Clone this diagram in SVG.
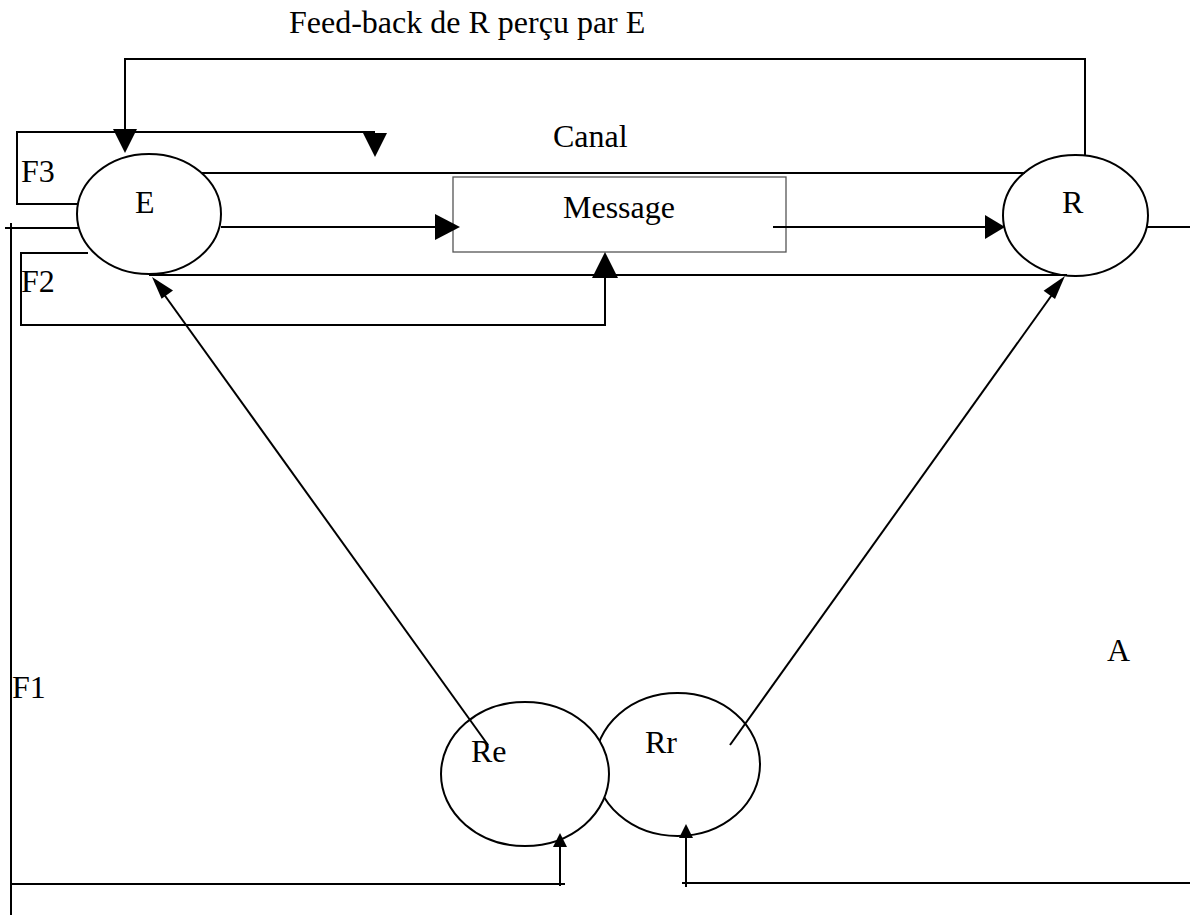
<svg xmlns="http://www.w3.org/2000/svg" width="1190" height="915" viewBox="0 0 1190 915">
<style>
.ln{fill:none;stroke:#000;stroke-width:2}
.nd{fill:#fff;stroke:#000;stroke-width:2}
.bx{fill:#fff;stroke:#555;stroke-width:1.3}
.ah{fill:#000;stroke:none}
text{font-family:"Liberation Serif","Times New Roman",serif;font-size:32px;fill:#000}
</style>
<rect width="1190" height="915" fill="#fff"/>
<g id="labels">
<text x="289" y="33">Feed-back de R perçu par E</text>
<text x="553" y="147">Canal</text>
<text x="21" y="182">F3</text>
<text x="21" y="292">F2</text>
<text x="12" y="698">F1</text>
<text x="1107" y="661">A</text>
</g>
<g id="node-Rr">
<ellipse class="nd" cx="677.5" cy="764.5" rx="82.5" ry="71.5"/>
<text x="645" y="753">Rr</text>
</g>
<g id="node-Re">
<ellipse class="nd" cx="525" cy="774" rx="84" ry="72"/>
<text x="471" y="762">Re</text>
</g>
<g id="node-E">
<ellipse class="nd" cx="149" cy="214" rx="72" ry="60"/>
<text x="135" y="213">E</text>
</g>
<g id="node-R">
<ellipse class="nd" cx="1075.5" cy="215.5" rx="72.5" ry="60.5"/>
<text x="1062" y="213">R</text>
</g>
<g id="node-Message">
<rect class="bx" x="453" y="177" width="333" height="75"/>
<text x="563" y="218">Message</text>
</g>
<g id="connectors">
<polyline class="ln" points="1085,155 1085,59 125,59 125,135"/>
<polygon class="ah" points="113,129 137,129 125,153"/>
<polyline class="ln" points="78,204 17,204 17,132 375,132"/>
<polygon class="ah" points="363,133 387,133 375,157"/>
<line class="ln" x1="202" y1="173" x2="1025" y2="173"/>
<line class="ln" x1="149" y1="275" x2="1067" y2="275"/>
<line class="ln" x1="221" y1="227" x2="440" y2="227"/>
<polygon class="ah" points="435,214 435,240 460,227"/>
<line class="ln" x1="773" y1="227" x2="990" y2="227"/>
<polygon class="ah" points="985,215 985,239 1005,227"/>
<line class="ln" x1="1147" y1="227" x2="1190" y2="227"/>
<line class="ln" x1="5" y1="228" x2="79" y2="228"/>
<line class="ln" x1="11" y1="223" x2="11" y2="915"/>
<polyline class="ln" points="88,253 21,253 21,325 605,325 605,270"/>
<polygon class="ah" points="592,278 618,278 605,252"/>
<line class="ln" x1="488" y1="745" x2="158" y2="286"/>
<polygon class="ah" points="152,277 173,290.5 161.6,298.7"/>
<line class="ln" x1="730" y1="745" x2="1059" y2="285"/>
<polygon class="ah" points="1065,276 1055,299 1043.6,290.8"/>
<polyline class="ln" points="11,884 565,884"/>
<line class="ln" x1="560" y1="886" x2="560" y2="840"/>
<polygon class="ah" points="553,847 567,847 560,833"/>
<polyline class="ln" points="1190,883 682,883"/>
<line class="ln" x1="686" y1="887" x2="686" y2="832"/>
<polygon class="ah" points="679,838 693,838 686,824"/>
</g>
</svg>
